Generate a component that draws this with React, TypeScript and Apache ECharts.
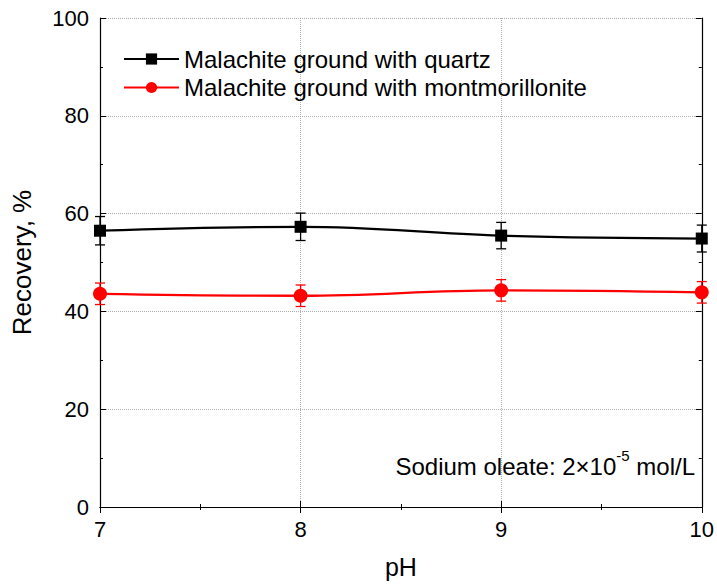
import React, { useEffect, useRef } from "react";
import * as echarts from "echarts";

// pH values tested
const phValues = [7, 8, 9, 10];

// Recovery (%) of malachite ground with quartz, and its error
const quartzRecovery = [56.5, 57.3, 55.5, 54.9];
const quartzError = [2.9, 2.8, 2.7, 2.75];

// Recovery (%) of malachite ground with montmorillonite, and its error
const montRecovery = [43.6, 43.2, 44.3, 43.9];
const montError = [2.2, 2.2, 2.2, 2.2];

const yTicks = [0, 20, 40, 60, 80, 100];

const FONT = "Liberation Sans, Arial, sans-serif";

function errorSeries(values: number[], errors: number[], color: string) {
  const data = phValues.map((x, i) => [x, values[i] - errors[i], values[i] + errors[i]]);
  return {
    type: "custom",
    silent: true,
    z: 3,
    data,
    renderItem: (_params: any, api: any) => {
      const x = api.value(0);
      const lo = api.coord([x, api.value(1)]);
      const hi = api.coord([x, api.value(2)]);
      const cap = 5;
      const style = { stroke: color, lineWidth: 1.3 };
      return {
        type: "group",
        children: [
          { type: "line", shape: { x1: lo[0], y1: lo[1], x2: hi[0], y2: hi[1] }, style },
          { type: "line", shape: { x1: lo[0] - cap, y1: lo[1], x2: lo[0] + cap, y2: lo[1] }, style },
          { type: "line", shape: { x1: hi[0] - cap, y1: hi[1], x2: hi[0] + cap, y2: hi[1] }, style },
        ],
      };
    },
  };
}

export default function App() {
  const ref = useRef<HTMLDivElement>(null);

  useEffect(() => {
    if (!ref.current) return;
    const chart = echarts.init(ref.current, undefined, { renderer: "svg" });

    const frameLine = { show: true, lineStyle: { color: "#000", width: 1.2 } };
    const gridLines = { show: true, lineStyle: { color: "#9a9a9a", type: [1, 1] as any, width: 0.8 } };
    const tick = { show: true, inside: true, length: 6, lineStyle: { color: "#000" } };
    const minor = { show: true, splitNumber: 2, length: 3, lineStyle: { color: "#000" } };

    chart.setOption({
      animation: false,
      backgroundColor: "#fff",
      textStyle: { fontFamily: FONT },
      grid: { left: 100, right: 14, top: 18, bottom: 78, containLabel: false },
      legend: {
        data: ["Malachite ground with quartz", "Malachite ground with montmorillonite"],
        orient: "vertical",
        left: 118,
        top: 42,
        itemWidth: 55,
        itemHeight: 14,
        itemGap: 4.5,
        textStyle: { fontSize: 24, lineHeight: 24, color: "#000", fontFamily: FONT },
      },
      xAxis: [
        {
          type: "value",
          min: 7,
          max: 10,
          interval: 1,
          name: "pH",
          nameLocation: "middle",
          nameGap: 47,
          nameTextStyle: { fontSize: 25, color: "#000", fontFamily: FONT },
          axisLine: frameLine,
          axisTick: tick,
          minorTick: minor,
          axisLabel: { fontSize: 22, color: "#000", margin: 11, fontFamily: FONT },
          splitLine: gridLines,
        },
        {
          type: "value",
          position: "top",
          min: 7,
          max: 10,
          interval: 1,
          axisLine: frameLine,
          axisTick: tick,
          minorTick: minor,
          axisLabel: { show: false },
          splitLine: { show: false },
        },
      ],
      yAxis: [
        {
          type: "value",
          min: yTicks[0],
          max: yTicks[yTicks.length - 1],
          interval: 20,
          name: "Recovery, %",
          nameLocation: "middle",
          nameGap: 65,
          nameTextStyle: { fontSize: 26, color: "#000", fontFamily: FONT },
          axisLine: frameLine,
          axisTick: tick,
          minorTick: minor,
          axisLabel: { fontSize: 22, color: "#000", margin: 11, fontFamily: FONT },
          splitLine: gridLines,
        },
        {
          type: "value",
          position: "right",
          min: 0,
          max: 100,
          interval: 20,
          axisLine: frameLine,
          axisTick: tick,
          minorTick: minor,
          axisLabel: { show: false },
          splitLine: { show: false },
        },
      ],
      series: [
        errorSeries(quartzRecovery, quartzError, "#000"),
        errorSeries(montRecovery, montError, "#ff0000"),
        {
          name: "Malachite ground with quartz",
          type: "line",
          smooth: 0.4,
          z: 4,
          data: phValues.map((x, i) => [x, quartzRecovery[i]]),
          symbol: "rect",
          symbolSize: 12,
          itemStyle: { color: "#000" },
          lineStyle: { color: "#000", width: 2.3 },
        },
        {
          name: "Malachite ground with montmorillonite",
          type: "line",
          smooth: 0.4,
          z: 4,
          data: phValues.map((x, i) => [x, montRecovery[i]]),
          symbol: "circle",
          symbolSize: 14,
          itemStyle: { color: "#ff0000" },
          lineStyle: { color: "#ff0000", width: 2.3 },
        },
      ],
      graphic: [
        {
          type: "text",
          right: 22,
          top: 448,
          style: {
            text: "{a|Sodium oleate: 2×10}{s|-5}{a| mol/L}",
            fill: "#000",
            rich: {
              a: { fontSize: 24, fontFamily: FONT, fill: "#000", verticalAlign: "bottom", lineHeight: 30 },
              s: { fontSize: 15, fontFamily: FONT, fill: "#000", verticalAlign: "top", lineHeight: 30, padding: [0, 0, 13, 0] },
            },
          },
        },
      ],
    });

    return () => chart.dispose();
  }, []);

  return (
    <div style={{ position: "absolute", left: 0, top: 0, width: 717, height: 585, background: "#fff" }}>
      <div ref={ref} style={{ width: 717, height: 585 }} />
    </div>
  );
}
